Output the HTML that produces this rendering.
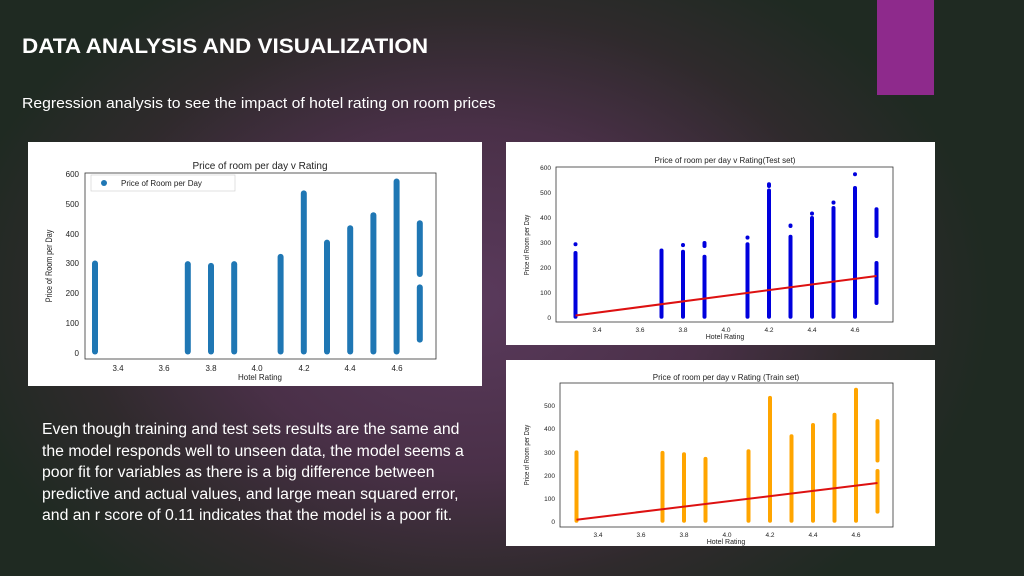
<!DOCTYPE html>
<html><head><meta charset="utf-8"><style>
html,body{margin:0;padding:0;}
body{width:1024px;height:576px;overflow:hidden;position:relative;font-family:"Liberation Sans",sans-serif;
background:radial-gradient(ellipse 520px 380px at 470px 300px,#5a3a5c 0%,#4a3048 45%,#2f2a2c 75%,#1f2a22 100%);}
.t{position:absolute;color:#fff;white-space:nowrap;transform-origin:0 0;}
</style></head><body>
<div style="position:absolute;left:877px;top:0;width:57px;height:95px;background:#8e2a8c"></div>
<div class="t" style="left:22px;top:35px;font-size:21px;font-weight:bold;transform:scaleX(1.07)">DATA ANALYSIS AND VISUALIZATION</div>
<div class="t" style="left:22px;top:95px;font-size:15px;transform:scaleX(1.05)">Regression analysis to see the impact of hotel rating on room prices</div>
<div class="t" style="left:42px;top:419px;font-size:15.5px;line-height:21.5px;transform:scaleX(1.02)">Even though training and test sets results are the same and<br>the model responds well to unseen data, the model seems a<br>poor fit for variables as there is a big difference between<br>predictive and actual values, and large mean squared error,<br>and an r score of 0.11 indicates that the model is a poor fit.</div>
<svg width="1024" height="576" style="position:absolute;left:0;top:0" font-family="Liberation Sans, sans-serif">
<!-- Chart 1 -->
<rect x="28" y="142" width="454" height="244" fill="#fff"/>
<rect x="85" y="173" width="351" height="186" fill="none" stroke="#333" stroke-width="0.8"/>
<text x="260" y="169" font-size="10" text-anchor="middle" fill="#222">Price of room per day v Rating</text>
<g font-size="8" fill="#222" text-anchor="end">
<text x="79" y="356">0</text><text x="79" y="326">100</text><text x="79" y="296">200</text><text x="79" y="266">300</text><text x="79" y="237">400</text><text x="79" y="207">500</text><text x="79" y="177">600</text></g>
<g font-size="8" fill="#222" text-anchor="middle">
<text x="118" y="371">3.4</text><text x="164" y="371">3.6</text><text x="211" y="371">3.8</text><text x="257" y="371">4.0</text><text x="304" y="371">4.2</text><text x="350" y="371">4.4</text><text x="397" y="371">4.6</text></g>
<text x="260" y="380" font-size="8" text-anchor="middle" fill="#222">Hotel Rating</text>
<text transform="translate(52,266) rotate(-90) scale(0.8,1)" font-size="9" text-anchor="middle" fill="#222">Price of Room per Day</text>
<rect x="91" y="175" width="144" height="16" fill="#fff" stroke="#ccc" stroke-width="0.6"/>
<circle cx="104" cy="183" r="3" fill="#1f77b4"/>
<text x="121" y="186" font-size="8" fill="#222">Price of Room per Day</text>
<g stroke="#1f77b4" stroke-width="6" stroke-linecap="round">
<line x1="95" y1="263.5" x2="95" y2="351.5"/><line x1="187.8" y1="264.1" x2="187.8" y2="351.5"/>
<line x1="211" y1="265.9" x2="211" y2="351.5"/><line x1="234.2" y1="264.1" x2="234.2" y2="351.5"/>
<line x1="280.6" y1="256.9" x2="280.6" y2="351.5"/><line x1="303.8" y1="193.4" x2="303.8" y2="351.5"/>
<line x1="327" y1="242.6" x2="327" y2="351.5"/><line x1="350.2" y1="228.3" x2="350.2" y2="351.5"/>
<line x1="373.4" y1="215.2" x2="373.4" y2="351.5"/><line x1="396.6" y1="181.5" x2="396.6" y2="351.5"/>
<line x1="419.8" y1="223.2" x2="419.8" y2="274"/><line x1="419.8" y1="287.4" x2="419.8" y2="339.6"/>
</g>
<!-- Chart 2 -->
<rect x="506" y="142" width="429" height="203" fill="#fff"/>
<rect x="556" y="167" width="337" height="155" fill="none" stroke="#333" stroke-width="0.8"/>
<text x="725" y="163" font-size="8" text-anchor="middle" fill="#222">Price of room per day v Rating(Test set)</text>
<g font-size="6.5" fill="#222" text-anchor="end">
<text x="551" y="320">0</text><text x="551" y="295">100</text><text x="551" y="270">200</text><text x="551" y="245">300</text><text x="551" y="220">400</text><text x="551" y="195">500</text><text x="551" y="170">600</text></g>
<g font-size="6.5" fill="#222" text-anchor="middle">
<text x="597" y="332">3.4</text><text x="640" y="332">3.6</text><text x="683" y="332">3.8</text><text x="726" y="332">4.0</text><text x="769" y="332">4.2</text><text x="812" y="332">4.4</text><text x="855" y="332">4.6</text></g>
<text x="725" y="339" font-size="7" text-anchor="middle" fill="#222">Hotel Rating</text>
<text transform="translate(529,245) rotate(-90) scale(0.8,1)" font-size="7.5" text-anchor="middle" fill="#222">Price of Room per Day</text>
<g stroke="#0000dd" stroke-width="4" stroke-linecap="round">
<line x1="575.5" y1="253" x2="575.5" y2="316.7"/><line x1="575.5" y1="244.2" x2="575.5" y2="244.3"/>
<line x1="661.5" y1="250.5" x2="661.5" y2="316.7"/>
<line x1="683" y1="251.8" x2="683" y2="316.7"/><line x1="683" y1="245" x2="683" y2="245.1"/>
<line x1="704.5" y1="256.7" x2="704.5" y2="316.7"/><line x1="704.5" y1="243" x2="704.5" y2="246"/>
<line x1="747.5" y1="244.2" x2="747.5" y2="316.7"/><line x1="747.5" y1="237.5" x2="747.5" y2="237.6"/>
<line x1="769" y1="190.5" x2="769" y2="316.7"/><line x1="769" y1="184.2" x2="769" y2="186"/>
<line x1="790.5" y1="236.7" x2="790.5" y2="316.7"/><line x1="790.5" y1="225.5" x2="790.5" y2="226"/>
<line x1="812" y1="218" x2="812" y2="316.7"/><line x1="812" y1="213.5" x2="812" y2="213.6"/>
<line x1="833.5" y1="208" x2="833.5" y2="316.7"/><line x1="833.5" y1="202.5" x2="833.5" y2="202.6"/>
<line x1="855" y1="188" x2="855" y2="316.7"/><line x1="855" y1="174.2" x2="855" y2="174.3"/>
<line x1="876.5" y1="209.2" x2="876.5" y2="236"/><line x1="876.5" y1="263" x2="876.5" y2="303"/>
</g>
<line x1="575.5" y1="315.5" x2="876.5" y2="276" stroke="#dd1111" stroke-width="2"/>
<!-- Chart 3 -->
<rect x="506" y="360" width="429" height="186" fill="#fff"/>
<rect x="560" y="383" width="333" height="144" fill="none" stroke="#333" stroke-width="0.8"/>
<text x="726" y="380" font-size="8" text-anchor="middle" fill="#222">Price of room per day v Rating (Train set)</text>
<g font-size="6.5" fill="#222" text-anchor="end">
<text x="555" y="524">0</text><text x="555" y="501">100</text><text x="555" y="478">200</text><text x="555" y="455">300</text><text x="555" y="431">400</text><text x="555" y="408">500</text></g>
<g font-size="6.5" fill="#222" text-anchor="middle">
<text x="598" y="537">3.4</text><text x="641" y="537">3.6</text><text x="684" y="537">3.8</text><text x="727" y="537">4.0</text><text x="770" y="537">4.2</text><text x="813" y="537">4.4</text><text x="856" y="537">4.6</text></g>
<text x="726" y="544" font-size="7" text-anchor="middle" fill="#222">Hotel Rating</text>
<text transform="translate(529,455) rotate(-90) scale(0.8,1)" font-size="7.5" text-anchor="middle" fill="#222">Price of Room per Day</text>
<g stroke="#ffa500" stroke-width="4" stroke-linecap="round">
<line x1="576.5" y1="452.4" x2="576.5" y2="520.8"/><line x1="662.5" y1="452.9" x2="662.5" y2="520.8"/>
<line x1="684" y1="454.3" x2="684" y2="520.8"/><line x1="705.5" y1="458.9" x2="705.5" y2="520.8"/>
<line x1="748.5" y1="451.2" x2="748.5" y2="520.8"/><line x1="770" y1="397.9" x2="770" y2="520.8"/>
<line x1="791.5" y1="436.2" x2="791.5" y2="520.8"/><line x1="813" y1="425" x2="813" y2="520.8"/>
<line x1="834.5" y1="414.8" x2="834.5" y2="520.8"/><line x1="856" y1="389.8" x2="856" y2="520.8"/>
<line x1="877.5" y1="421.1" x2="877.5" y2="460.5"/><line x1="877.5" y1="471" x2="877.5" y2="511.6"/>
</g>
<line x1="576.5" y1="519.7" x2="877.5" y2="483" stroke="#dd1111" stroke-width="2"/>
</svg>
</body></html>
